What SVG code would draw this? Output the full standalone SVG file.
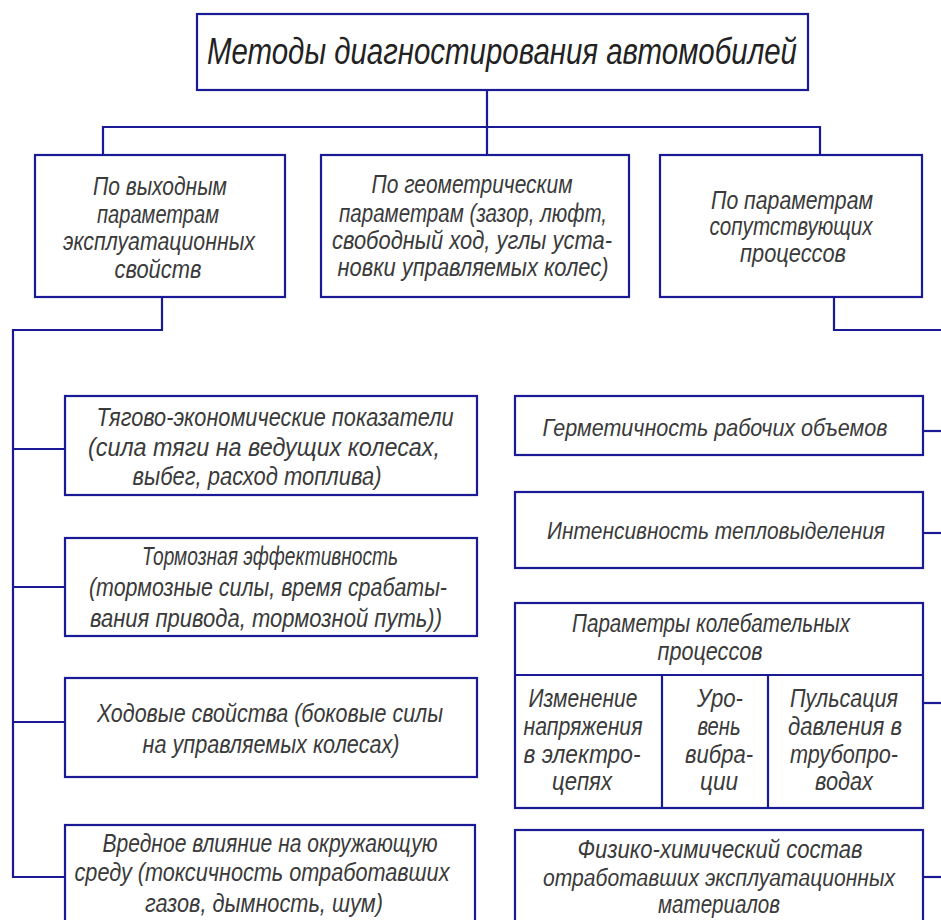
<svg xmlns="http://www.w3.org/2000/svg" width="941" height="920" viewBox="0 0 941 920">
<style>
.box{fill:#fff;stroke:#1a1a96;stroke-width:2.2}
.ln{fill:none;stroke:#1a1a96;stroke-width:2.2}
text{font-family:"Liberation Sans",Arial,sans-serif;font-style:italic;fill:#3a3a3a;font-size:25px;text-anchor:middle}
.t{font-size:36px;fill:#222}
.s{font-size:24px}
.xs{font-size:23px}
</style>
<rect width="941" height="920" fill="#fff"/>
<g id="connectors">
<polyline class="ln" points="487,90 487,155"/>
<polyline class="ln" points="103,155 103,127 820,127 820,155"/>
<polyline class="ln" points="162,297 162,330 13,330 13,877 65,877"/>
<line class="ln" x1="13" y1="449" x2="65" y2="449"/>
<line class="ln" x1="13" y1="587" x2="65" y2="587"/>
<line class="ln" x1="13" y1="722" x2="65" y2="722"/>
<polyline class="ln" points="834,297 834,330 941,330"/>
<line class="ln" x1="923" y1="431" x2="941" y2="431"/>
<line class="ln" x1="923" y1="533" x2="941" y2="533"/>
<line class="ln" x1="923" y1="703" x2="941" y2="703"/>
<line class="ln" x1="923" y1="877" x2="941" y2="877"/>
</g>
<g id="root">
<rect class="box" x="197" y="14" width="611" height="76"/>
<text class="t" x="502" y="64" textLength="590" lengthAdjust="spacingAndGlyphs">Методы диагностирования автомобилей</text>
</g>
<g id="n1">
<rect class="box" x="35" y="155" width="250" height="142"/>
<text x="160" y="195" textLength="134" lengthAdjust="spacingAndGlyphs">По выходным</text>
<text x="158" y="223" textLength="122" lengthAdjust="spacingAndGlyphs">параметрам</text>
<text x="159" y="250" textLength="192" lengthAdjust="spacingAndGlyphs">эксплуатационных</text>
<text x="158" y="278" textLength="87" lengthAdjust="spacingAndGlyphs">свойств</text>
</g>
<g id="n2">
<rect class="box" x="321" y="155" width="308" height="142"/>
<text x="472" y="193" textLength="201" lengthAdjust="spacingAndGlyphs">По геометрическим</text>
<text x="473" y="222" textLength="268" lengthAdjust="spacingAndGlyphs">параметрам (зазор, люфт,</text>
<text x="472" y="249" textLength="280" lengthAdjust="spacingAndGlyphs">свободный ход, углы уста-</text>
<text x="473" y="276" textLength="271" lengthAdjust="spacingAndGlyphs">новки управляемых колес)</text>
</g>
<g id="n3">
<rect class="box" x="660" y="155" width="262" height="142"/>
<text x="792" y="209" textLength="162" lengthAdjust="spacingAndGlyphs">По параметрам</text>
<text x="791" y="235" textLength="163" lengthAdjust="spacingAndGlyphs">сопутствующих</text>
<text x="793" y="262" textLength="106" lengthAdjust="spacingAndGlyphs">процессов</text>
</g>
<g id="l1">
<rect class="box" x="65" y="396" width="412" height="99"/>
<text x="275" y="426" textLength="357" lengthAdjust="spacingAndGlyphs">Тягово-экономические показатели</text>
<text x="264" y="456" textLength="352" lengthAdjust="spacingAndGlyphs">(сила тяги на ведущих колесах,</text>
<text x="257" y="485" textLength="249" lengthAdjust="spacingAndGlyphs">выбег, расход топлива)</text>
</g>
<g id="l2">
<rect class="box" x="65" y="538" width="412" height="98"/>
<text x="270" y="565" textLength="256" lengthAdjust="spacingAndGlyphs">Тормозная эффективность</text>
<text x="268" y="596" textLength="358" lengthAdjust="spacingAndGlyphs">(тормозные силы, время срабаты-</text>
<text x="266" y="627" textLength="352" lengthAdjust="spacingAndGlyphs">вания привода, тормозной путь))</text>
</g>
<g id="l3">
<rect class="box" x="65" y="678" width="412" height="99"/>
<text x="270" y="722" textLength="346" lengthAdjust="spacingAndGlyphs">Ходовые свойства (боковые силы</text>
<text x="271" y="753" textLength="257" lengthAdjust="spacingAndGlyphs">на управляемых колесах)</text>
</g>
<g id="l4">
<rect class="box" x="65" y="825" width="410" height="100"/>
<text x="270" y="852" textLength="335" lengthAdjust="spacingAndGlyphs">Вредное влияние на окружающую</text>
<text x="262" y="881" textLength="375" lengthAdjust="spacingAndGlyphs">среду (токсичность отработавших</text>
<text x="264" y="912" textLength="238" lengthAdjust="spacingAndGlyphs">газов, дымность, шум)</text>
</g>
<g id="r1">
<rect class="box" x="515" y="396" width="408" height="59"/>
<text class="s" x="715" y="436" textLength="345" lengthAdjust="spacingAndGlyphs">Герметичность рабочих объемов</text>
</g>
<g id="r2">
<rect class="box" x="515" y="492" width="408" height="76"/>
<text class="s" x="716" y="539" textLength="338" lengthAdjust="spacingAndGlyphs">Интенсивность тепловыделения</text>
</g>
<g id="r3">
<rect class="box" x="515" y="603" width="408" height="205"/>
<line class="ln" x1="515" y1="675" x2="923" y2="675"/>
<line class="ln" x1="662" y1="675" x2="662" y2="808"/>
<line class="ln" x1="768" y1="675" x2="768" y2="808"/>
<text x="711" y="632" textLength="278" lengthAdjust="spacingAndGlyphs">Параметры колебательных</text>
<text x="710" y="660" textLength="105" lengthAdjust="spacingAndGlyphs">процессов</text>
<text x="583" y="707" textLength="109" lengthAdjust="spacingAndGlyphs">Изменение</text>
<text x="583" y="735" textLength="119" lengthAdjust="spacingAndGlyphs">напряжения</text>
<text x="582" y="763" textLength="117" lengthAdjust="spacingAndGlyphs">в электро-</text>
<text x="582" y="790" textLength="60" lengthAdjust="spacingAndGlyphs">цепях</text>
<text x="720" y="707" textLength="46" lengthAdjust="spacingAndGlyphs">Уро-</text>
<text x="719" y="735" textLength="43" lengthAdjust="spacingAndGlyphs">вень</text>
<text x="719" y="763" textLength="68" lengthAdjust="spacingAndGlyphs">вибра-</text>
<text x="719" y="790" textLength="38" lengthAdjust="spacingAndGlyphs">ции</text>
<text x="844" y="707" textLength="108" lengthAdjust="spacingAndGlyphs">Пульсация</text>
<text x="845" y="735" textLength="114" lengthAdjust="spacingAndGlyphs">давления в</text>
<text x="844" y="763" textLength="108" lengthAdjust="spacingAndGlyphs">трубопро-</text>
<text x="844" y="790" textLength="58" lengthAdjust="spacingAndGlyphs">водах</text>
</g>
<g id="r4">
<rect class="box" x="515" y="830" width="408" height="95"/>
<text x="720" y="858" textLength="285" lengthAdjust="spacingAndGlyphs">Физико-химический состав</text>
<text class="xs" x="719" y="886" textLength="352" lengthAdjust="spacingAndGlyphs">отработавших эксплуатационных</text>
<text x="719" y="913" textLength="122" lengthAdjust="spacingAndGlyphs">материалов</text>
</g>
</svg>
